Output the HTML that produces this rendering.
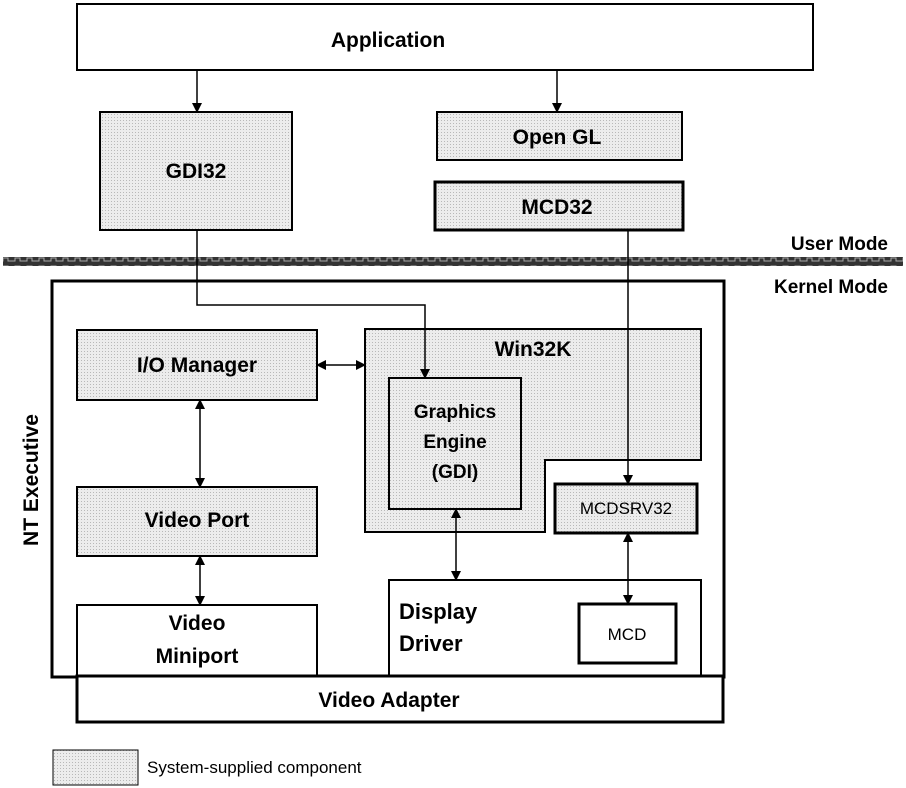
<!DOCTYPE html>
<html><head><style>body{margin:0;background:#fff}svg{display:block}</style></head>
<body>
<svg width="906" height="788" xmlns="http://www.w3.org/2000/svg" font-family="Liberation Sans, sans-serif">
<defs>
<pattern id="d" width="3" height="3" patternUnits="userSpaceOnUse"><rect width="3" height="3" fill="#ececec"/><rect width="1" height="1" fill="#b8b8b8"/></pattern>
<pattern id="w" width="12" height="8" patternUnits="userSpaceOnUse"><rect width="12" height="8" fill="#333"/><path d="M0 5h3v-3h5v3h4" stroke="#aaa" fill="none" stroke-width="1"/></pattern>
<marker id="a" markerWidth="10" markerHeight="10" refX="9" refY="5" orient="auto-start-reverse" markerUnits="userSpaceOnUse"><path d="M0 0L10 5L0 10z" fill="#000"/></marker>
</defs>
<g stroke="#000" stroke-width="2">
<rect x="77" y="4" width="736" height="66" fill="#fff"/>
<rect x="100" y="112" width="192" height="118" fill="url(#d)"/>
<rect x="437" y="112" width="245" height="48" fill="url(#d)"/>
<rect x="435" y="182" width="248" height="48" fill="url(#d)" stroke-width="3"/>
</g>
<rect x="3" y="257" width="900" height="9" fill="url(#w)"/>
<rect x="52" y="281" width="672" height="396" fill="none" stroke="#000" stroke-width="3"/>
<g stroke="#000" stroke-width="2">
<rect x="77" y="330" width="240" height="70" fill="url(#d)"/>
<path d="M365 329H701V460H545V532H365Z" fill="url(#d)"/>
<rect x="389" y="378" width="132" height="131" fill="url(#d)"/>
<rect x="555" y="484" width="142" height="49" fill="url(#d)" stroke-width="3"/>
<rect x="389" y="580" width="312" height="96" fill="#fff"/>
<rect x="579" y="604" width="97" height="59" fill="#fff" stroke-width="3"/>
<rect x="77" y="487" width="240" height="69" fill="url(#d)"/>
<rect x="77" y="605" width="240" height="71" fill="#fff"/>
<rect x="77" y="676" width="646" height="46" fill="#fff" stroke-width="3"/>
<rect x="53" y="750" width="85" height="35" fill="url(#d)" stroke-width="1"/>
</g>
<g stroke="#000" stroke-width="1.5" fill="none">
<path d="M197 70V112" marker-end="url(#a)"/>
<path d="M557 70V112" marker-end="url(#a)"/>
<path d="M197 230V305H425V378" marker-end="url(#a)"/>
<path d="M628 230V484" marker-end="url(#a)"/>
<path d="M317 365H365" marker-start="url(#a)" marker-end="url(#a)"/>
<path d="M200 400V487" marker-start="url(#a)" marker-end="url(#a)"/>
<path d="M200 556V605" marker-start="url(#a)" marker-end="url(#a)"/>
<path d="M456 509V580" marker-start="url(#a)" marker-end="url(#a)"/>
<path d="M628 533V604" marker-start="url(#a)" marker-end="url(#a)"/>
</g>
<g font-weight="bold" font-size="21" text-anchor="middle" fill="#000">
<text x="388" y="47">Application</text>
<text x="196" y="178">GDI32</text>
<text x="557" y="144">Open GL</text>
<text x="557" y="214">MCD32</text>
<text x="197" y="372">I/O Manager</text>
<text x="197" y="527">Video Port</text>
<text x="197" y="630">Video</text>
<text x="197" y="663">Miniport</text>
<text x="389" y="707">Video Adapter</text>
<text x="533" y="356">Win32K</text>
<text x="455" y="418" font-size="19">Graphics</text>
<text x="455" y="448" font-size="19">Engine</text>
<text x="455" y="478" font-size="19">(GDI)</text>
<text x="888" y="250" text-anchor="end" font-size="19">User Mode</text>
<text x="888" y="293" text-anchor="end" font-size="19">Kernel Mode</text>
<text x="0" y="0" transform="translate(38,480) rotate(-90)">NT Executive</text>
</g>
<g font-weight="bold" font-size="22" fill="#000">
<text x="399" y="619">Display</text>
<text x="399" y="651">Driver</text>
</g>
<g font-size="17" text-anchor="middle" fill="#000">
<text x="626" y="514">MCDSRV32</text>
<text x="627" y="640">MCD</text>
<text x="147" y="773" text-anchor="start">System-supplied component</text>
</g>
</svg>
</body></html>
